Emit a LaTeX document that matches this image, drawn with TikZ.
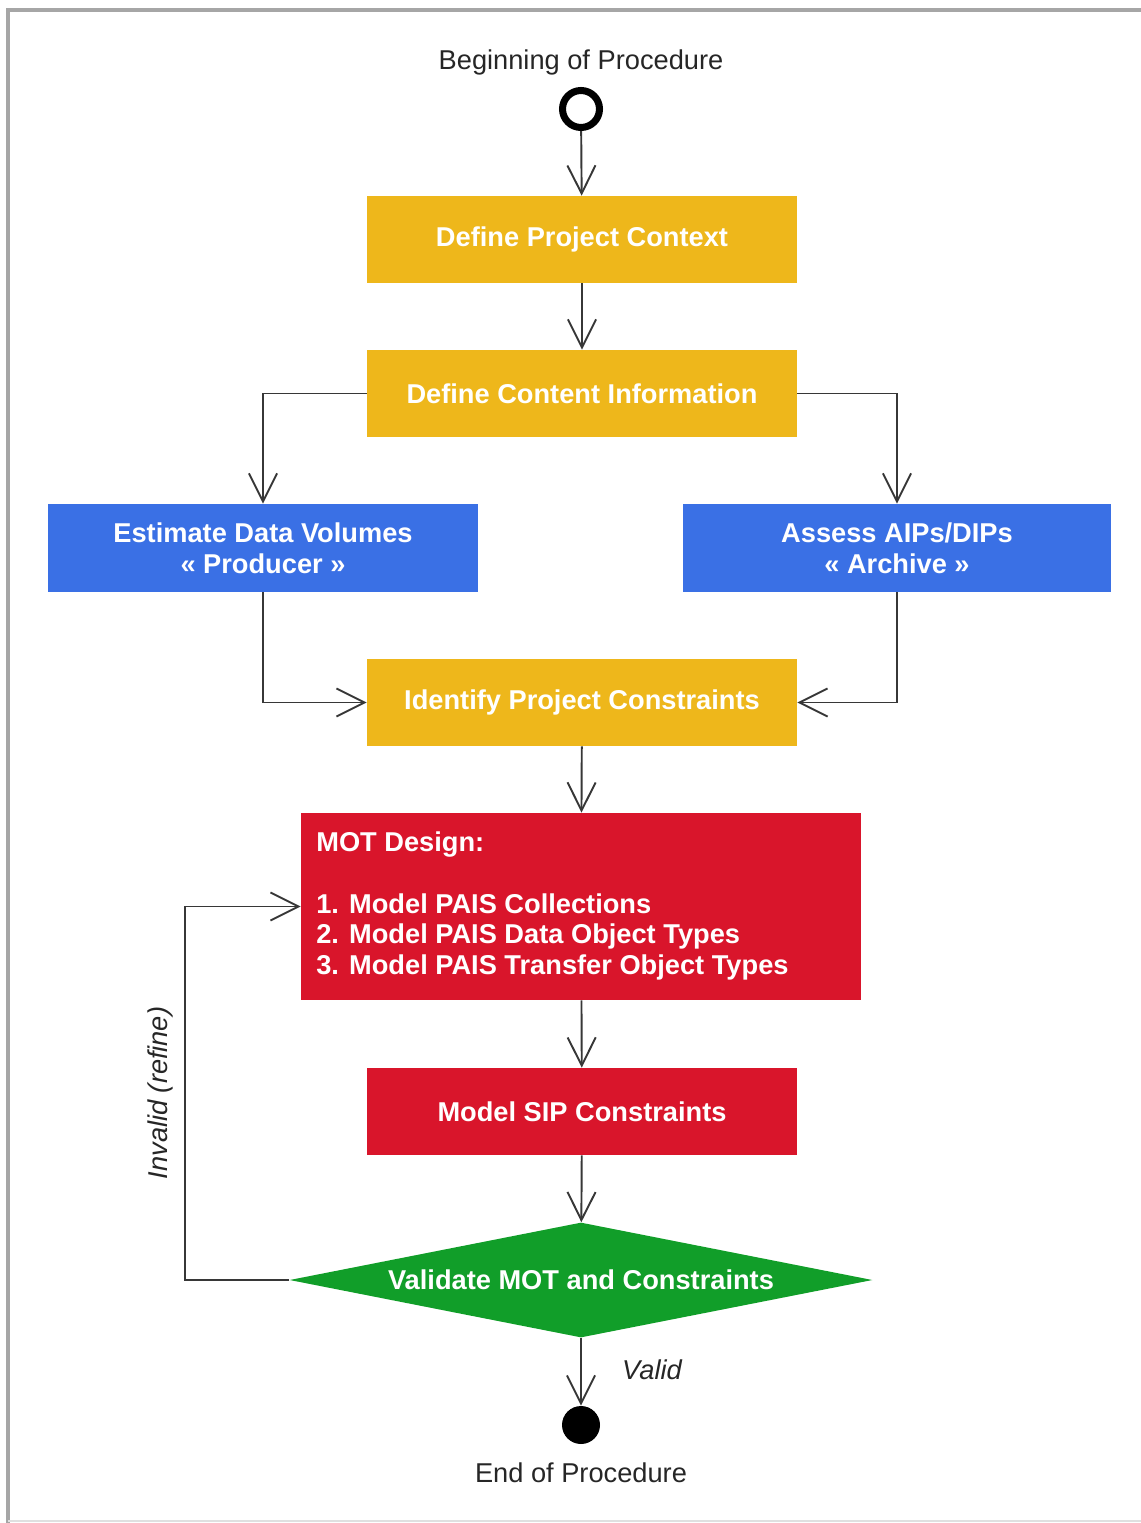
\documentclass[tikz,border=0pt]{standalone}
\usepackage{fontspec}
\setmainfont{Liberation Sans}
\usetikzlibrary{shapes.geometric,arrows.meta}

\definecolor{stepgold}{RGB}{238,183,27}
\definecolor{stepblue}{RGB}{58,112,229}
\definecolor{stepred}{RGB}{217,21,43}
\definecolor{stepgreen}{RGB}{17,158,41}
\definecolor{wire}{RGB}{55,55,55}

\tikzset{
  box/.style={rectangle,inner sep=0pt,minimum width=8.6cm,minimum height=1.74cm,
    text=white,align=center,font=\fontsize{15.5}{17.6}\selectfont\bfseries},
  flow/.style={-{Straight Barb[length=16pt,width=16pt]},line width=1.1pt,draw=wire},
  caption/.style={font=\fontsize{15.5}{17.6}\selectfont,text=black!85}
}

\begin{document}
\begin{tikzpicture}[x=0.02cm,y=-0.02cm]
    \useasboundingbox (0,0) rectangle (1141,1523);
    % frame of the page
    \draw[black!35,line width=2pt] (8,1523) -- (8,10) -- (1141,10);
    \draw[black!12,line width=1pt] (8,1521) -- (1141,1521);

    \node[caption] (begin) at (581,62) {Beginning of Procedure};
    \node[circle,draw=black,line width=4pt,fill=white,inner sep=0pt,minimum size=0.74cm] (start) at (581,109) {};

    \node[box,fill=stepgold] (context) at (582,239.5) {Define Project Context};
    \node[box,fill=stepgold] (content) at (582,393.5) {Define Content Information};
    \node[box,fill=stepblue,minimum height=1.76cm] (volumes) at (263,548) {Estimate Data Volumes\\« Producer »};
    \node[box,fill=stepblue,minimum height=1.76cm,minimum width=8.56cm] (aips) at (897,548) {Assess AIPs/DIPs\\« Archive »};
    \node[box,fill=stepgold] (constraints) at (582,702.5) {Identify Project Constraints};
    \node[rectangle,fill=stepred,minimum width=11.2cm,minimum height=3.74cm] (mot) at (581,906.5) {};
    \node[anchor=west,inner sep=0pt,text=white,align=left,font=\fontsize{15.5}{17.6}\selectfont\bfseries] (motlist) at (316,906)
      {MOT Design:\\[17.6pt] 1. Model PAIS Collections\\ 2. Model PAIS Data Object Types\\ 3. Model PAIS Transfer Object Types};
    \node[box,fill=stepred] (sip) at (582,1111.5) {Model SIP Constraints};
    \node[diamond,fill=stepgreen,inner sep=0pt,aspect=5,minimum width=11.66cm,minimum height=2.3cm,
      text=white,font=\fontsize{15.5}{17.6}\selectfont\bfseries] (validate) at (581,1280) {Validate MOT and Constraints};

    \node[circle,fill=black,inner sep=0pt,minimum size=0.76cm] (stop) at (581,1425) {};
    \node[caption] (end) at (581,1473) {End of Procedure};

    \node[caption,font=\fontsize{15.5}{17.6}\selectfont\itshape] (valid) at (652,1370) {Valid};
    \node[caption,font=\fontsize{15.5}{17.6}\selectfont\itshape,rotate=90] (invalid) at (160,1093) {Invalid (refine)};
    \coordinate (back) at (185,1280);

    \draw[flow] (start) -- (context);
    \draw[flow] (context) -- (content);
    \draw[flow] (content.west) -| (volumes.north);
    \draw[flow] (content.east) -| (aips.north);
    \draw[flow] (volumes.south) |- (constraints.west);
    \draw[flow] (aips.south) |- (constraints.east);
    \draw[flow] (constraints) -- (mot);
    \draw[flow] (mot) -- (sip);
    \draw[flow] (sip) -- (validate);
    \draw[flow] (validate) -- (stop);
    \draw[flow] (validate.west) -- (back) |- (mot.west);
\end{tikzpicture}
\end{document}
